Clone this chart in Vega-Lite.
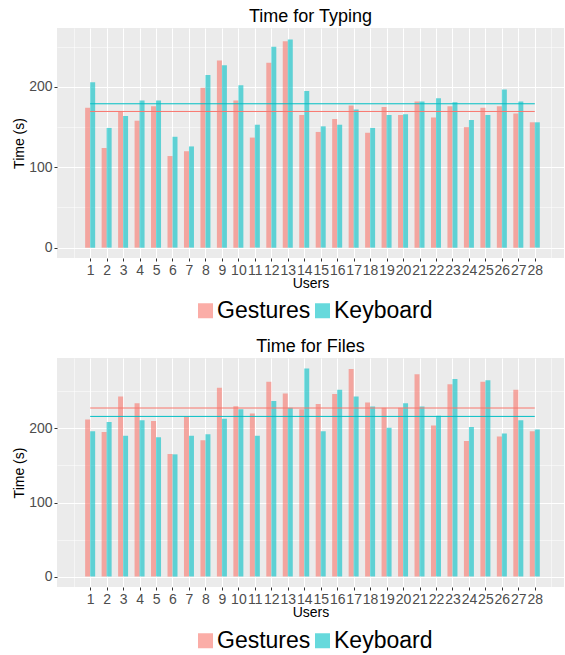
{
  "$schema": "https://vega.github.io/schema/vega-lite/v6.json",
  "padding": {"left": 12, "top": 8, "right": 0, "bottom": 0},
  "spacing": 15,
  "datasets": {
    "d": [
      {"task":"Typing","user":1,"device":"Gestures","time":174},{"task":"Typing","user":1,"device":"Keyboard","time":206},
      {"task":"Typing","user":2,"device":"Gestures","time":124},{"task":"Typing","user":2,"device":"Keyboard","time":149},
      {"task":"Typing","user":3,"device":"Gestures","time":169},{"task":"Typing","user":3,"device":"Keyboard","time":164},
      {"task":"Typing","user":4,"device":"Gestures","time":158},{"task":"Typing","user":4,"device":"Keyboard","time":183},
      {"task":"Typing","user":5,"device":"Gestures","time":176},{"task":"Typing","user":5,"device":"Keyboard","time":183},
      {"task":"Typing","user":6,"device":"Gestures","time":114},{"task":"Typing","user":6,"device":"Keyboard","time":138},
      {"task":"Typing","user":7,"device":"Gestures","time":120},{"task":"Typing","user":7,"device":"Keyboard","time":126},
      {"task":"Typing","user":8,"device":"Gestures","time":199},{"task":"Typing","user":8,"device":"Keyboard","time":215},
      {"task":"Typing","user":9,"device":"Gestures","time":233},{"task":"Typing","user":9,"device":"Keyboard","time":227},
      {"task":"Typing","user":10,"device":"Gestures","time":183},{"task":"Typing","user":10,"device":"Keyboard","time":202},
      {"task":"Typing","user":11,"device":"Gestures","time":137},{"task":"Typing","user":11,"device":"Keyboard","time":153},
      {"task":"Typing","user":12,"device":"Gestures","time":230},{"task":"Typing","user":12,"device":"Keyboard","time":250},
      {"task":"Typing","user":13,"device":"Gestures","time":257},{"task":"Typing","user":13,"device":"Keyboard","time":259},
      {"task":"Typing","user":14,"device":"Gestures","time":165},{"task":"Typing","user":14,"device":"Keyboard","time":195},
      {"task":"Typing","user":15,"device":"Gestures","time":144},{"task":"Typing","user":15,"device":"Keyboard","time":151},
      {"task":"Typing","user":16,"device":"Gestures","time":160},{"task":"Typing","user":16,"device":"Keyboard","time":153},
      {"task":"Typing","user":17,"device":"Gestures","time":177},{"task":"Typing","user":17,"device":"Keyboard","time":172},
      {"task":"Typing","user":18,"device":"Gestures","time":143},{"task":"Typing","user":18,"device":"Keyboard","time":149},
      {"task":"Typing","user":19,"device":"Gestures","time":175},{"task":"Typing","user":19,"device":"Keyboard","time":165},
      {"task":"Typing","user":20,"device":"Gestures","time":165},{"task":"Typing","user":20,"device":"Keyboard","time":166},
      {"task":"Typing","user":21,"device":"Gestures","time":182},{"task":"Typing","user":21,"device":"Keyboard","time":182},
      {"task":"Typing","user":22,"device":"Gestures","time":162},{"task":"Typing","user":22,"device":"Keyboard","time":186},
      {"task":"Typing","user":23,"device":"Gestures","time":176},{"task":"Typing","user":23,"device":"Keyboard","time":181},
      {"task":"Typing","user":24,"device":"Gestures","time":150},{"task":"Typing","user":24,"device":"Keyboard","time":159},
      {"task":"Typing","user":25,"device":"Gestures","time":174},{"task":"Typing","user":25,"device":"Keyboard","time":165},
      {"task":"Typing","user":26,"device":"Gestures","time":176},{"task":"Typing","user":26,"device":"Keyboard","time":197},
      {"task":"Typing","user":27,"device":"Gestures","time":167},{"task":"Typing","user":27,"device":"Keyboard","time":182},
      {"task":"Typing","user":28,"device":"Gestures","time":156},{"task":"Typing","user":28,"device":"Keyboard","time":156},
      {"task":"Files","user":1,"device":"Gestures","time":212},{"task":"Files","user":1,"device":"Keyboard","time":196},
      {"task":"Files","user":2,"device":"Gestures","time":195},{"task":"Files","user":2,"device":"Keyboard","time":208.5},
      {"task":"Files","user":3,"device":"Gestures","time":243},{"task":"Files","user":3,"device":"Keyboard","time":190},
      {"task":"Files","user":4,"device":"Gestures","time":234},{"task":"Files","user":4,"device":"Keyboard","time":211},
      {"task":"Files","user":5,"device":"Gestures","time":210},{"task":"Files","user":5,"device":"Keyboard","time":188},
      {"task":"Files","user":6,"device":"Gestures","time":165.5},{"task":"Files","user":6,"device":"Keyboard","time":165},
      {"task":"Files","user":7,"device":"Gestures","time":216},{"task":"Files","user":7,"device":"Keyboard","time":190},
      {"task":"Files","user":8,"device":"Gestures","time":184},{"task":"Files","user":8,"device":"Keyboard","time":192},
      {"task":"Files","user":9,"device":"Gestures","time":255},{"task":"Files","user":9,"device":"Keyboard","time":213},
      {"task":"Files","user":10,"device":"Gestures","time":230},{"task":"Files","user":10,"device":"Keyboard","time":226},
      {"task":"Files","user":11,"device":"Gestures","time":220},{"task":"Files","user":11,"device":"Keyboard","time":190},
      {"task":"Files","user":12,"device":"Gestures","time":263},{"task":"Files","user":12,"device":"Keyboard","time":237},
      {"task":"Files","user":13,"device":"Gestures","time":247},{"task":"Files","user":13,"device":"Keyboard","time":228},
      {"task":"Files","user":14,"device":"Gestures","time":226},{"task":"Files","user":14,"device":"Keyboard","time":281},
      {"task":"Files","user":15,"device":"Gestures","time":233},{"task":"Files","user":15,"device":"Keyboard","time":196},
      {"task":"Files","user":16,"device":"Gestures","time":246.5},{"task":"Files","user":16,"device":"Keyboard","time":252},
      {"task":"Files","user":17,"device":"Gestures","time":280},{"task":"Files","user":17,"device":"Keyboard","time":243},
      {"task":"Files","user":18,"device":"Gestures","time":235},{"task":"Files","user":18,"device":"Keyboard","time":229.5},
      {"task":"Files","user":19,"device":"Gestures","time":228},{"task":"Files","user":19,"device":"Keyboard","time":201},
      {"task":"Files","user":20,"device":"Gestures","time":228},{"task":"Files","user":20,"device":"Keyboard","time":234},
      {"task":"Files","user":21,"device":"Gestures","time":273},{"task":"Files","user":21,"device":"Keyboard","time":229.5},
      {"task":"Files","user":22,"device":"Gestures","time":204},{"task":"Files","user":22,"device":"Keyboard","time":217},
      {"task":"Files","user":23,"device":"Gestures","time":259.5},{"task":"Files","user":23,"device":"Keyboard","time":266.7},
      {"task":"Files","user":24,"device":"Gestures","time":183},{"task":"Files","user":24,"device":"Keyboard","time":202},
      {"task":"Files","user":25,"device":"Gestures","time":263},{"task":"Files","user":25,"device":"Keyboard","time":265},
      {"task":"Files","user":26,"device":"Gestures","time":189},{"task":"Files","user":26,"device":"Keyboard","time":193},
      {"task":"Files","user":27,"device":"Gestures","time":252},{"task":"Files","user":27,"device":"Keyboard","time":211},
      {"task":"Files","user":28,"device":"Gestures","time":196},{"task":"Files","user":28,"device":"Keyboard","time":198.6}
    ]
  },
  "config": {
    "font": "Liberation Sans",
    "view": {"fill": "#EBEBEB", "stroke": null},
    "title": {"fontSize": 18, "fontWeight": "normal", "color": "#000000", "offset": 2, "anchor": "middle", "font": "Liberation Sans"},
    "axis": {
      "domain": false,
      "gridColor": "#FFFFFF",
      "tickColor": "#333333",
      "tickSize": 3,
      "tickWidth": 1,
      "labelColor": "#4D4D4D",
      "labelFontSize": 14,
      "labelFont": "Liberation Sans",
      "titleFont": "Liberation Sans",
      "titleFontSize": 14,
      "titleFontWeight": "normal",
      "titleColor": "#000000",
      "labelOverlap": false,
      "labelFlush": false,
      "labelPadding": 2
    },
    "legend": {
      "orient": "none",
      "legendX": 137,
      "legendY": 271,
      "direction": "horizontal",
      "title": null,
      "labelFontSize": 23,
      "labelFont": "Liberation Sans",
      "labelColor": "#000000",
      "symbolType": "square",
      "symbolSize": 225,
      "symbolStrokeWidth": 0,
      "symbolOpacity": 0.6,
      "labelOffset": 0,
      "columnPadding": -3
    }
  },
  "resolve": {"scale": {"color": "independent", "x": "independent", "y": "independent"}, "legend": {"color": "independent"}},
  "vconcat": [
    {
      "title": "Time for Typing",
      "width": 507,
      "height": 230,
      "data": {"name": "d"},
      "transform": [{"filter": "datum.task == 'Typing'"}],
      "encoding": {
        "x": {"field": "user", "type": "quantitative",
          "scale": {"domain": [-0.71, 29.47], "nice": false, "zero": false},
          "axis": {"title": "Users", "titlePadding": -1, "format": "d",
            "values": [0,0.5,1,1.5,2,2.5,3,3.5,4,4.5,5,5.5,6,6.5,7,7.5,8,8.5,9,9.5,10,10.5,11,11.5,12,12.5,13,13.5,14,14.5,15,15.5,16,16.5,17,17.5,18,18.5,19,19.5,20,20.5,21,21.5,22,22.5,23,23.5,24,24.5,25,25.5,26,26.5,27,27.5,28,28.5,29],
            "labelExpr": "datum.value >= 1 && datum.value <= 28 && datum.value % 1 == 0 ? datum.label : ''",
            "gridWidth": {"condition": {"test": "datum.value >= 1 && datum.value <= 28 && datum.value % 1 == 0", "value": 1.1}, "value": 0.5},
            "tickOpacity": {"condition": {"test": "datum.value >= 1 && datum.value <= 28 && datum.value % 1 == 0", "value": 1}, "value": 0}
          }
        },
        "y": {"field": "time", "type": "quantitative",
          "scale": {"domain": [-12.9, 273.4], "nice": false, "zero": false},
          "axis": {"title": "Time (s)", "titlePadding": 2,
            "values": [0,50,100,150,200,250],
            "labelExpr": "datum.value % 100 == 0 ? datum.label : ''",
            "gridWidth": {"condition": {"test": "datum.value % 100 == 0", "value": 1.1}, "value": 0.5},
            "tickOpacity": {"condition": {"test": "datum.value % 100 == 0", "value": 1}, "value": 0}
          }
        },
        "color": {"field": "device", "type": "nominal", "scale": {"domain": ["Gestures", "Keyboard"], "range": ["#F8766D", "#00BFC4"]}}
      },
      "layer": [
        {"transform": [{"filter": "datum.device == 'Gestures'"}], "mark": {"type": "bar", "width": 5, "xOffset": -2.5, "opacity": 0.6}},
        {"transform": [{"filter": "datum.device == 'Keyboard'"}], "mark": {"type": "bar", "width": 5, "xOffset": 2.5, "opacity": 0.6}},
        {"mark": {"type": "rule", "strokeWidth": 1},
          "encoding": {
            "x": {"aggregate": "min", "field": "user", "type": "quantitative"},
            "x2": {"aggregate": "max", "field": "user"},
            "y": {"aggregate": "mean", "field": "time", "type": "quantitative"},
            "color": {"field": "device", "type": "nominal"}
          }
        }
      ]
    },
    {
      "title": "Time for Files",
      "width": 507,
      "height": 229,
      "data": {"name": "d"},
      "transform": [{"filter": "datum.task == 'Files'"}],
      "encoding": {
        "x": {"field": "user", "type": "quantitative",
          "scale": {"domain": [-0.71, 29.47], "nice": false, "zero": false},
          "axis": {"title": "Users", "titlePadding": -1, "format": "d",
            "values": [0,0.5,1,1.5,2,2.5,3,3.5,4,4.5,5,5.5,6,6.5,7,7.5,8,8.5,9,9.5,10,10.5,11,11.5,12,12.5,13,13.5,14,14.5,15,15.5,16,16.5,17,17.5,18,18.5,19,19.5,20,20.5,21,21.5,22,22.5,23,23.5,24,24.5,25,25.5,26,26.5,27,27.5,28,28.5,29],
            "labelExpr": "datum.value >= 1 && datum.value <= 28 && datum.value % 1 == 0 ? datum.label : ''",
            "gridWidth": {"condition": {"test": "datum.value >= 1 && datum.value <= 28 && datum.value % 1 == 0", "value": 1.1}, "value": 0.5},
            "tickOpacity": {"condition": {"test": "datum.value >= 1 && datum.value <= 28 && datum.value % 1 == 0", "value": 1}, "value": 0}
          }
        },
        "y": {"field": "time", "type": "quantitative",
          "scale": {"domain": [-14, 295], "nice": false, "zero": false},
          "axis": {"title": "Time (s)", "titlePadding": 2,
            "values": [0,50,100,150,200,250],
            "labelExpr": "datum.value % 100 == 0 ? datum.label : ''",
            "gridWidth": {"condition": {"test": "datum.value % 100 == 0", "value": 1.1}, "value": 0.5},
            "tickOpacity": {"condition": {"test": "datum.value % 100 == 0", "value": 1}, "value": 0}
          }
        },
        "color": {"field": "device", "type": "nominal", "scale": {"domain": ["Gestures", "Keyboard"], "range": ["#F8766D", "#00BFC4"]}}
      },
      "layer": [
        {"transform": [{"filter": "datum.device == 'Gestures'"}], "mark": {"type": "bar", "width": 5, "xOffset": -2.5, "opacity": 0.6}},
        {"transform": [{"filter": "datum.device == 'Keyboard'"}], "mark": {"type": "bar", "width": 5, "xOffset": 2.5, "opacity": 0.6}},
        {"mark": {"type": "rule", "strokeWidth": 1},
          "encoding": {
            "x": {"aggregate": "min", "field": "user", "type": "quantitative"},
            "x2": {"aggregate": "max", "field": "user"},
            "y": {"aggregate": "mean", "field": "time", "type": "quantitative"},
            "color": {"field": "device", "type": "nominal"}
          }
        }
      ]
    }
  ]
}
